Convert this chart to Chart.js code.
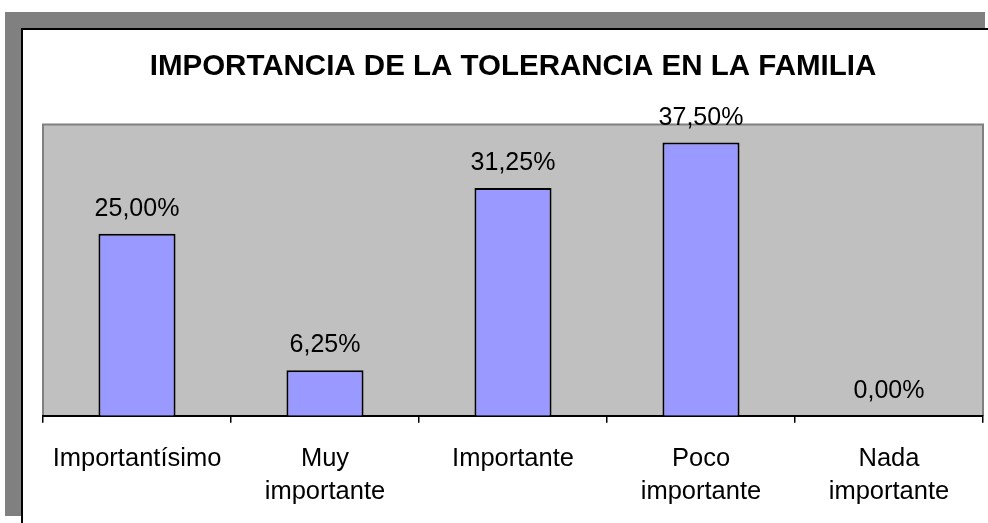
<!DOCTYPE html>
<html lang="es">
<head>
    <meta charset="UTF-8">
    <title>Importancia de la tolerancia en la familia</title>
    <script src="https://cdn.jsdelivr.net/npm/chart.js"></script>
    <style>
        body {
            margin: 0;
            background: white;
            font-family: "Liberation Sans", Arial, sans-serif;
        }
        .sombra {
            position: absolute;
            left: 5px;
            top: 12px;
            width: 980px;
            height: 504px;
            background: #808080;
        }
        .marco {
            position: absolute;
            left: 21px;
            top: 28px;
            width: 980px;
            height: 520px;
            background: white;
            border: 2px solid black;
        }
        #grafico {
            position: absolute;
            left: 0;
            top: 0;
        }
    </style>
</head>
<body>
    <div class="sombra"></div>
    <div class="marco"></div>
    <canvas id="grafico" width="988" height="523"></canvas>

    <script>
        const categorias = [
            'Importantísimo',
            ['Muy', 'importante'],
            'Importante',
            ['Poco', 'importante'],
            ['Nada', 'importante']
        ];
        const porcentajes = [25.00, 6.25, 31.25, 37.50, 0.00];
        const titulo = 'IMPORTANCIA DE LA TOLERANCIA EN LA FAMILIA';

        // fondo gris del area de trazado
        const fondoPlot = {
            id: 'fondoPlot',
            beforeDraw(chart) {
                const { ctx, chartArea: a } = chart;
                ctx.save();
                ctx.fillStyle = '#c0c0c0';
                ctx.fillRect(a.left, a.top, a.right - a.left, a.bottom - a.top);
                ctx.strokeStyle = '#808080';
                ctx.lineWidth = 2;
                ctx.beginPath();
                ctx.moveTo(a.left, a.bottom);
                ctx.lineTo(a.left, a.top);
                ctx.lineTo(a.right, a.top);
                ctx.lineTo(a.right, a.bottom);
                ctx.stroke();
                ctx.restore();
            }
        };

        // etiquetas de valor encima de cada barra
        const etiquetas = {
            id: 'etiquetas',
            afterDatasetsDraw(chart) {
                const { ctx } = chart;
                const meta = chart.getDatasetMeta(0);
                ctx.save();
                ctx.font = '25px "Liberation Sans", Arial, sans-serif';
                ctx.fillStyle = '#000';
                ctx.textAlign = 'center';
                ctx.textBaseline = 'alphabetic';
                meta.data.forEach((barra, i) => {
                    const txt = porcentajes[i].toFixed(2).replace('.', ',') + '%';
                    ctx.fillText(txt, barra.x, barra.y - 18);
                });
                ctx.restore();
            }
        };

        new Chart(document.getElementById('grafico'), {
            type: 'bar',
            data: {
                labels: categorias,
                datasets: [{
                    data: porcentajes,
                    backgroundColor: '#9999ff',
                    borderColor: '#000',
                    borderWidth: 2,
                    barPercentage: 0.41,
                    categoryPercentage: 1
                }]
            },
            options: {
                responsive: false,
                animation: false,
                layout: {
                    padding: { left: 43, right: 5, top: 0, bottom: -6 }
                },
                plugins: {
                    legend: { display: false },
                    tooltip: { enabled: false },
                    title: {
                        display: true,
                        text: titulo,
                        color: '#000',
                        font: { family: '"Liberation Sans", Arial, sans-serif', size: 29.5, weight: 'bold', lineHeight: 1.2 },
                        padding: { top: 49, bottom: 40 }
                    }
                },
                scales: {
                    x: {
                        offset: true,
                        grid: {
                            display: true,
                            offset: true,
                            drawOnChartArea: false,
                            drawTicks: true,
                            tickLength: 7,
                            lineWidth: 1.5,
                            color: '#000'
                        },
                        border: { display: true, color: '#000', width: 2 },
                        ticks: {
                            color: '#000',
                            padding: 20,
                            maxRotation: 0,
                            autoSkip: false,
                            font: { family: '"Liberation Sans", Arial, sans-serif', size: 25.5, lineHeight: 1.3 }
                        }
                    },
                    y: {
                        display: false,
                        min: 0,
                        max: 40
                    }
                }
            },
            plugins: [fondoPlot, etiquetas]
        });
    </script>
</body>
</html>
